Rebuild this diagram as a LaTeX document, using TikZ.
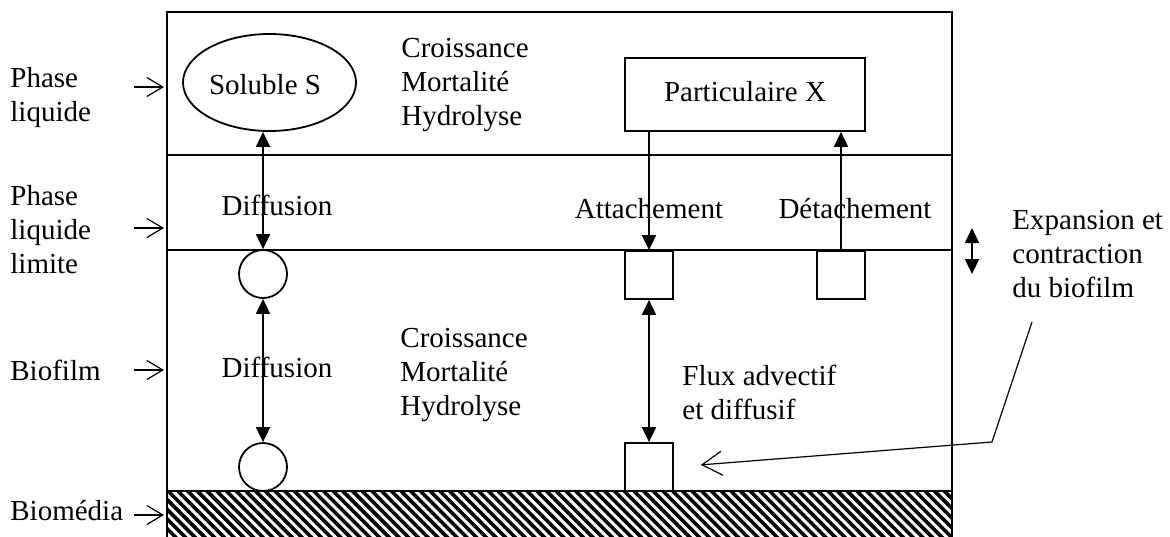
\documentclass[tikz,border=0pt]{standalone}
\usepackage{fontspec}
\setmainfont{Liberation Serif}
\usetikzlibrary{shapes.geometric,arrows.meta}
\begin{document}
\begin{tikzpicture}[x=0.5pt,y=-0.5pt,
  every node/.style={font=\fontsize{14.5}{17}\selectfont, inner sep=0pt},
  ln/.style={line width=0.9pt},
  dbl/.style={ln, {Triangle[length=7.5pt,width=7pt]}-{Triangle[length=7.5pt,width=7pt]}},
  onehead/.style={ln, -{Triangle[length=7.5pt,width=7pt]}},
  lab/.style={align=left, anchor=west},
  side/.style={line width=0.6pt, -{Straight Barb[length=8pt,width=9.5pt]}},
  circ/.style={draw, circle, ln, minimum size=24pt},
  sq/.style={draw, rectangle, ln, minimum size=24pt}]
\useasboundingbox (0,0) rectangle (1170,536);
% hatch
\begin{scope}
\clip (167,491) rectangle (952,540);
\foreach \i in {0,...,90} {
  \draw[line width=1.8pt] (110+\i*9.7,491) -- ++(60,60);
}
\end{scope}
% frame
\draw[ln] (167,540) -- (167,12) -- (952,12) -- (952,540);
\draw[ln] (167,155) -- (952,155);
\draw[ln] (167,250) -- (952,250);
\draw[line width=1.1pt] (167,491) -- (952,491);
% side labels
\node[lab] (l1) at (10,98) {Phase\\liquide};
\node[lab] (l2) at (10,230) {Phase\\liquide\\limite};
\node[lab] (l3) at (10,370) {Biofilm};
\node[lab] (l4) at (10,511) {Biomédia};
\coordinate (a1s) at (134,87); \coordinate (a1e) at (164,87);
\coordinate (a2s) at (134,228); \coordinate (a2e) at (164,228);
\coordinate (a3s) at (134,370); \coordinate (a3e) at (164,370);
\coordinate (a4s) at (134,515); \coordinate (a4e) at (164,515);
\draw[side] (a1s) -- (a1e);
\draw[side] (a2s) -- (a2e);
\draw[side] (a3s) -- (a3e);
\draw[side] (a4s) -- (a4e);
% shapes
\node[draw, ellipse, ln, minimum width=86.5pt, minimum height=48.5pt] (sol) at (269.5,82.5) {};
\node (solt) at (265,85) {Soluble S};
\node[draw, rectangle, ln, minimum width=120pt, minimum height=36.5pt] (part) at (745,94.5) {};
\node (partt) at (745,92) {Particulaire X};
\node[circ] (c1) at (263,274) {};
\node[circ] (c2) at (263,467) {};
\node[sq] (s1) at (649,275) {};
\node[sq] (s2) at (841,275) {};
\node[sq] (s3) at (649,467) {};
% texts
\node[lab] (cr1) at (401,85) {Croissance\\Mortalité\\Hydrolyse};
\node[lab] (cr2) at (400,375) {Croissance\\Mortalité\\Hydrolyse};
\node (d1) at (277,205) {Diffusion};
\node (d2) at (277,367) {Diffusion};
\node (att) at (649,209) {Attachement};
\node (det) at (855,209) {Détachement};
\node[lab] (flux) at (682,392) {Flux advectif\\et diffusif};
\node[lab] (exp) at (1012,254) {Expansion et\\contraction\\du biofilm};
% connectors
\draw[dbl] (c1.north |- sol.south) -- (c1.north);
\draw[dbl] (c1.south) -- (c2.north);
\draw[onehead] (s1.north |- part.south) -- (s1.north);
\draw[onehead] (s2.north) -- (s2.north |- part.south);
\draw[dbl] (s1.south) -- (s3.north);
\coordinate (e1) at (972,228); \coordinate (e2) at (972,274);
\draw[dbl] (e1) -- (e2);
\coordinate (p1) at (1032,322); \coordinate (p2) at (992,442);
\draw[line width=0.6pt, -{Straight Barb[length=10pt,width=12pt]}, shorten >=13.5pt] (p1) -- (p2) -- (s3.east);
\end{tikzpicture}
\end{document}
